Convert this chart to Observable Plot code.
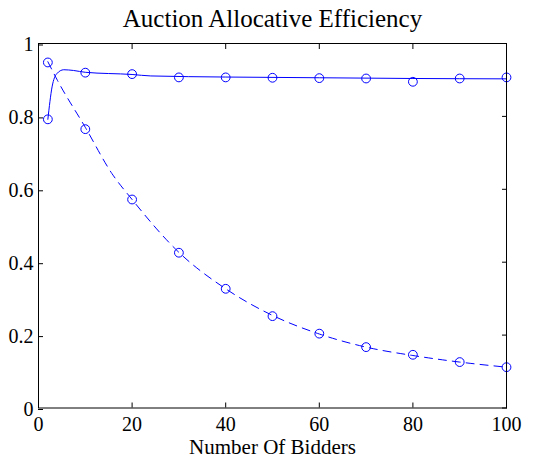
<!DOCTYPE html>
<html>
<head>
<meta charset="utf-8">
<script src="https://cdn.jsdelivr.net/npm/d3@7"></script>
<script src="https://cdn.jsdelivr.net/npm/@observablehq/plot@0.6"></script>
<style>
  html, body { margin: 0; padding: 0; background: #fff; }
  #chart { width: 535px; height: 459px; position: relative; }
</style>
</head>
<body>
<div id="chart"></div>
<script>
// Measured markers
const bidders = [2, 10, 20, 30, 40, 50, 60, 70, 80, 90, 100];
const solidValues  = [0.792, 0.920, 0.916, 0.907, 0.907, 0.906, 0.905, 0.904, 0.895, 0.904, 0.907];
const dashedValues = [0.948, 0.765, 0.572, 0.426, 0.327, 0.252, 0.204, 0.167, 0.146, 0.126, 0.112];

// Fitted curves
const solidFitX = [2, 2.9, 3.9, 5.4, 7.5, 10, 20, 24, 40, 60, 80, 100];
const solidFitY = [0.792, 0.881, 0.917, 0.928, 0.926, 0.921, 0.915, 0.911, 0.908, 0.906, 0.904, 0.903];
const dashedFitX = [2, 4, 10, 15.7, 20, 30, 40, 50, 60, 70, 80, 90, 100];
const dashedFitY = [0.950, 0.900, 0.770, 0.643, 0.572, 0.427, 0.327, 0.254, 0.203, 0.167, 0.144, 0.126, 0.112];

const xTicks = [0, 20, 40, 60, 80, 100];
const yTicks = [0, 0.2, 0.4, 0.6, 0.8, 1];
const yTickLabels = ["0", "0.2", "0.4", "0.6", "0.8", "1"];

const title = "Auction Allocative Efficiency";
const xLabel = "Number Of Bidders";

const markers = [
  ...bidders.map((x, i) => ({x, y: solidValues[i]})),
  ...bidders.map((x, i) => ({x, y: dashedValues[i]}))
];
const solidFit = solidFitX.map((x, i) => ({x, y: solidFitY[i]}));
const dashedFit = dashedFitX.map((x, i) => ({x, y: dashedFitY[i]}));

const blue = "#0000ff";
const font = "'Liberation Serif', 'Times New Roman', serif";

const plot = Plot.plot({
  width: 535,
  height: 459,
  marginLeft: 38,
  marginRight: 29,
  marginTop: 43,
  marginBottom: 51.5,
  style: { fontFamily: font, fontSize: "20px", background: "white", color: "black" },
  x: { domain: [0, 100] },
  y: { domain: [0, 1] },
  marks: [
    Plot.axisX({ anchor: "bottom", ticks: xTicks, tickSize: -5, tickPadding: 13.3, label: null, fontSize: 20 }),
    Plot.axisX({ anchor: "top", ticks: xTicks, tickSize: -5, tickFormat: () => "", label: null }),
    Plot.axisY({ anchor: "left", ticks: yTicks, tickSize: -5, tickPadding: 10, tickFormat: d => yTickLabels[yTicks.indexOf(d)], label: null, fontSize: 20, dy: 1.5 }),
    Plot.axisY({ anchor: "right", ticks: yTicks, tickSize: -5, tickFormat: () => "", label: null }),
    Plot.line(solidFit, { x: "x", y: "y", stroke: blue, strokeWidth: 1, curve: "monotone-x" }),
    Plot.line(dashedFit, { x: "x", y: "y", stroke: blue, strokeWidth: 1, curve: "monotone-x", strokeDasharray: "8,6" }),
    Plot.dot(markers, { x: "x", y: "y", r: 4.4, stroke: blue, strokeWidth: 1, fill: "none" }),
    Plot.frame({ stroke: "black", strokeWidth: 1 }),
    Plot.text([title], { frameAnchor: "top", lineAnchor: "top", dy: -34, text: d => d, fontSize: 25, fontFamily: font, fill: "black" }),
    Plot.text([xLabel], { frameAnchor: "bottom", lineAnchor: "top", dy: 31.1, text: d => d, fontSize: 21, fontFamily: font, fill: "black" })
  ]
});
document.getElementById("chart").appendChild(plot);
</script>
</body>
</html>
